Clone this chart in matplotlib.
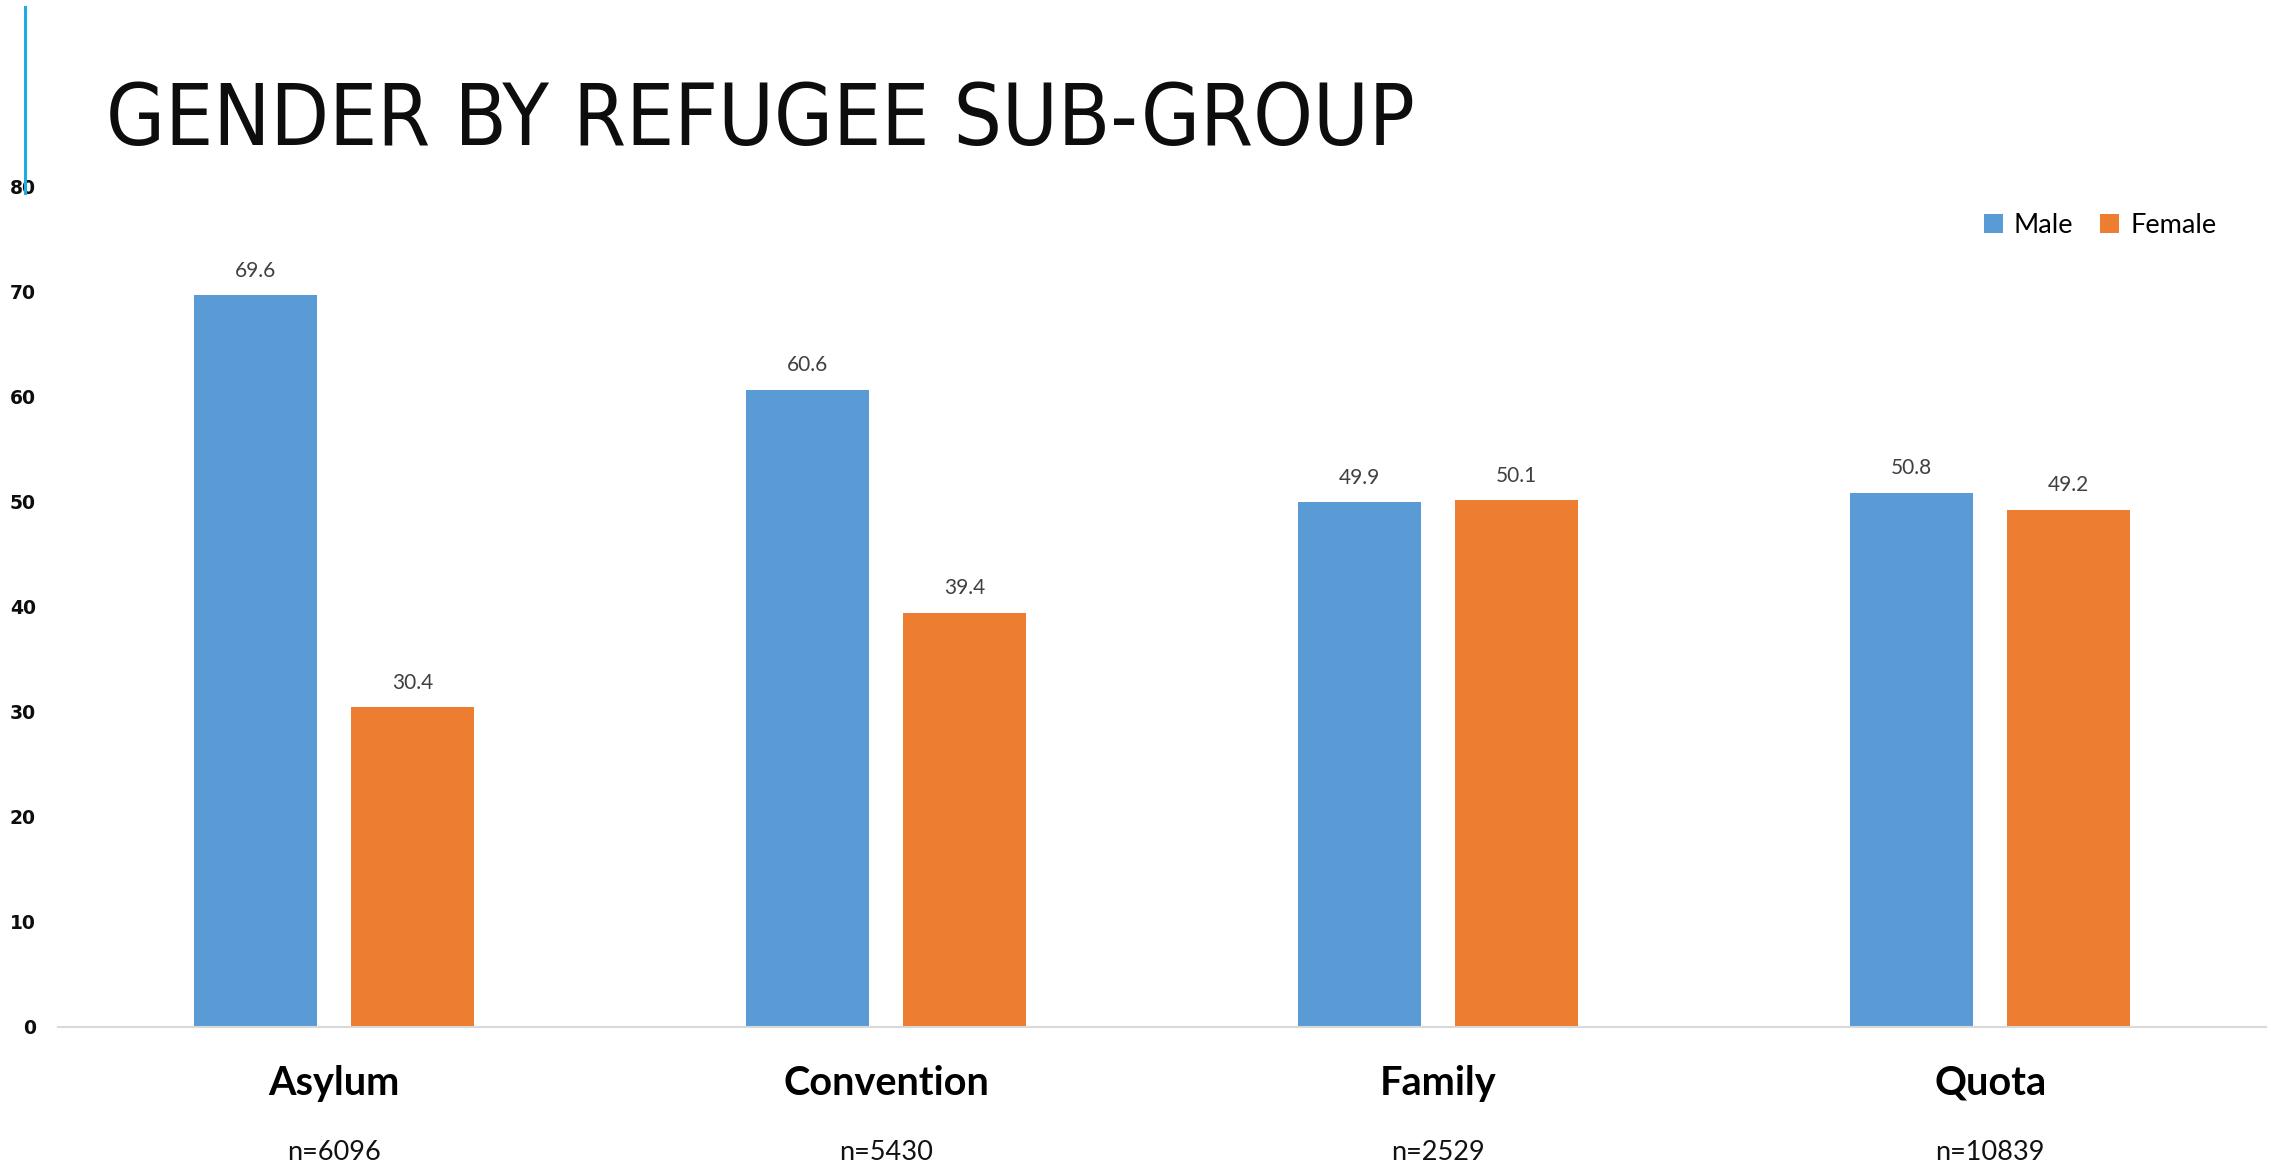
import matplotlib
matplotlib.use("Agg")
import matplotlib.pyplot as plt
import matplotlib.transforms as mtransforms
from matplotlib.lines import Line2D
import numpy as np

categories = ["Asylum", "Convention", "Family", "Quota"]
sample_sizes = ["n=6096", "n=5430", "n=2529", "n=10839"]
male = [69.6, 60.6, 49.9, 50.8]
female = [30.4, 39.4, 50.1, 49.2]
y_ticks = [0, 10, 20, 30, 40, 50, 60, 70, 80]

BLUE = "#5B9BD5"
ORANGE = "#ED7D31"
LABEL_FONT = ["Lato", "DejaVu Sans"]

fig = plt.figure(figsize=(22.77, 11.67), dpi=100)
ax = fig.add_axes([0.0255, 0.12, 0.9697, 0.7206])

x = np.arange(len(categories))
width = 0.2235
offset = 0.1425

bars_m = ax.bar(x - offset, male, width, color=BLUE, label="Male")
bars_f = ax.bar(x + offset, female, width, color=ORANGE, label="Female")

# value labels above each bar
for bars in (bars_m, bars_f):
    for b in bars:
        h = b.get_height()
        ax.annotate(f"{h:.1f}", (b.get_x() + b.get_width() / 2, h),
                    xytext=(0, 13.5), textcoords="offset points",
                    ha="center", va="baseline", fontsize=15,
                    color="#404040", family=LABEL_FONT)

ax.set_xlim(-0.5, len(categories) - 0.5)
ax.set_ylim(0, 80)
ax.set_yticks(y_ticks)
ax.set_yticklabels([str(t) for t in y_ticks], fontsize=13.5, fontweight="bold",
                   family="DejaVu Sans", color="#0d0d0d")
ax.tick_params(axis="y", length=0, pad=16)
ax.set_xticks([])

for s in ("top", "right", "left"):
    ax.spines[s].set_visible(False)
ax.spines["bottom"].set_color("#d9d9d9")
ax.spines["bottom"].set_linewidth(1.5)

# category names and sample sizes under the axis
trans = mtransforms.blended_transform_factory(ax.transData, ax.transAxes)
for i, (cat, n) in enumerate(zip(categories, sample_sizes)):
    ax.text(i, -0.0809, cat, transform=trans, ha="center", va="baseline",
            fontsize=28.5, fontweight="bold", color="black", family=LABEL_FONT)
    ax.text(i, -0.158, n, transform=trans, ha="center", va="baseline",
            fontsize=19.5, color="#111111", family=LABEL_FONT)

leg = fig.legend(handles=[bars_m, bars_f], labels=["Male", "Female"],
                 loc="center left", bbox_to_anchor=(0.8713, 0.807),
                 ncol=2, frameon=False, borderpad=0, borderaxespad=0,
                 handlelength=0.7, handleheight=0.7, handletextpad=0.4,
                 columnspacing=1.0, prop={"family": LABEL_FONT, "size": 19.5})

# title and the thin accent bar on the left
title = fig.text(0.0466, 0.8758, "GENDER BY REFUGEE SUB-GROUP", ha="left", va="baseline",
                 fontsize=68, color="#0d0d0d", family="DejaVu Sans", fontstretch="condensed")
# shrink the title until it spans the same width as in the slide
fig.canvas.draw()
target_w = (1416 - 106) / 2277 * fig.bbox.width
w = title.get_window_extent().width
if w > target_w:
    title.set_fontsize(68 * target_w / w)
fig.add_artist(Line2D([0.01076, 0.01076], [0.994, 0.8346], color="#1CADE4",
                      linewidth=2.2, transform=fig.transFigure))

fig.savefig("out.png", dpi=100)
